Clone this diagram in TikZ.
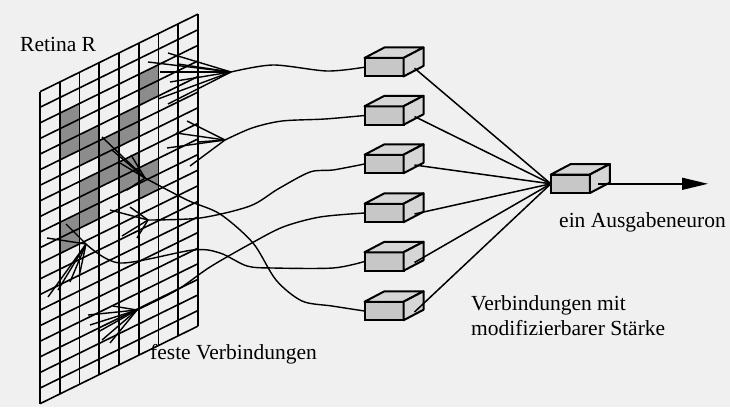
\documentclass[tikz,border=0pt]{standalone}
\usepackage{fontspec}
\setmainfont{Liberation Serif}
\usepackage{tikz}
\usetikzlibrary{arrows.meta}

\begin{document}
\begin{tikzpicture}[x=1pt,y=-1pt,
    lab/.style={font=\fontsize{21.5}{26}\selectfont, inner sep=0pt, anchor=base west},
    unit/.style={rectangle, draw, line width=2pt, fill=black!22, minimum width=39pt,
                 minimum height=18.5pt, inner sep=0pt, outer sep=0pt},
    face/.style={draw, line width=2pt, fill=black!16, line join=round},
    fibre/.style={line width=1.4pt},
    wire/.style={line width=1.5pt}]
        \useasboundingbox (0,0) rectangle (730,407);
        \fill[black!6] (0,0) rectangle (730,407);

        % retina
        \begin{scope}[shift={(40,91.7)}, x={(19.75pt,9.7pt)}, y={(0pt,-15.6pt)}]
            \foreach \c/\r in {1/2,1/3,1/4,1/9,1/10,2/4,2/5,2/7,2/8,2/9,3/5,3/6,3/7,
                               4/4,4/5,4/7,4/8,5/2,5/3,5/8,5/9}
                \fill[black!45] (\c,\r) -- (\c+1,\r) -- (\c+1,\r+1) -- (\c,\r+1) -- cycle;
            \foreach \i in {0,...,8}
                \draw[line width=1.6pt] (\i,0) -- (\i,20);
            \foreach \j in {0,...,20}
                \draw[line width=1.6pt] (0,\j) -- (8,\j);
        \end{scope}
        \node[lab] (retina) at (20,51) {Retina R};

        \coordinate (f1) at (231,72);
        \coordinate (f2) at (225,140);
        \coordinate (f3) at (145,178);
        \coordinate (f4) at (148,220);
        \coordinate (f5) at (86,244);
        \coordinate (f6) at (137,310);

        \foreach \x/\y in {168/53,148/62,178/64,160/72,170/82,158/99,168/104}
            \draw[fibre] (\x,\y) -- (f1);
        \foreach \x/\y in {187/121,176/133,167/148,190/166,198/142}
            \draw[fibre] (\x,\y) -- (f2);
        \foreach \x/\y in {102/137,112/150,120/163,131/155,127/190}
            \draw[fibre] (\x,\y) -- (f3);
        \foreach \x/\y in {110/210,130/207,122/236,137/238}
            \draw[fibre] (\x,\y) -- (f4);
        \foreach \x/\y in {47/238,66/224,48/297,58/290,70/282,79/277}
            \draw[fibre] (\x,\y) -- (f5);
        \foreach \x/\y in {88/315,90/325,98/332,102/340,110/343,113/306}
            \draw[fibre] (\x,\y) -- (f6);

        % association units
        \foreach \n/\y in {1/67.2,2/115.5,3/164,4/213,5/261.5,6/311}
            \node[unit] (b\n) at (384,\y) {};
        \node[unit] (out) at (570.3,183.8) {};
        \foreach \n in {b1,b2,b3,b4,b5,b6,out} {
            \draw[face] (\n.north west) -- ++(20,-10.5) -- ++(39,0) -- (\n.north east) -- cycle;
            \draw[face] (\n.north east) -- ++(20,-10.5) -- ++(0,18.5) -- (\n.south east) -- cycle;
        }

        \draw[fibre] plot[smooth] coordinates {(f1) (273,65) (327,71) (b1.west)};
        \draw[fibre] plot[smooth] coordinates {(f2) (252,128) (282,121) (325,119) (b2.west)};
        \draw[fibre] plot[smooth] coordinates {(f4) (200,218) (250,206) (278,189) (310,172) (333,170) (b3.west)};
        \draw[fibre] plot[smooth] coordinates {(f6) (177,290) (210,267) (250,244) (283,227) (320,217) (b4.west)};
        \draw[fibre] plot[smooth] coordinates {(f5) (120,263) (193,250) (220,253) (247,266) (273,268) (333,268) (b5.west)};
        \draw[fibre] plot[smooth] coordinates {(f3) (187,200) (220,214) (253,243) (276,280) (302,301) (332,306) (b6.west)};

        \foreach \n in {1,...,6}
            \draw[wire] ([xshift=11pt,yshift=-1pt]b\n.east) -- (out.west);

        \coordinate (tip) at (708,183.8);
        \draw[wire, -{Triangle[length=26pt,width=12pt]}] ([xshift=8pt]out.east) -- (tip);

        \node[lab] (ausg) at (559,227) {ein Ausgabeneuron};
        \node[lab] (mod1) at (471,310) {Verbindungen mit};
        \node[lab] (mod2) at (471,335) {modifizierbarer Stärke};
        \node[lab] (fest) at (150,359) {feste Verbindungen};
    \end{tikzpicture}
\end{document}
